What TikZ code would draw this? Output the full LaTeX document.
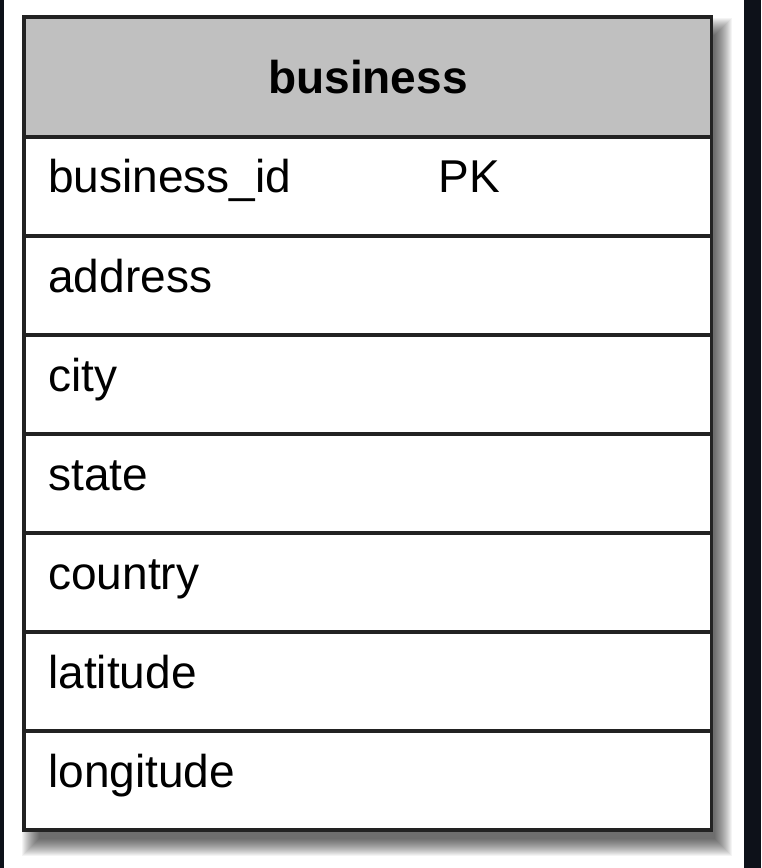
\documentclass[tikz,border=0pt]{standalone}
\usepackage{fontspec}
\setmainfont{Liberation Sans}
\usepackage{tikz}
\usetikzlibrary{positioning}

\definecolor{pagedark}{RGB}{13,17,25}
\definecolor{headgray}{RGB}{192,192,192}
\definecolor{edgegray}{RGB}{34,34,34}

\begin{document}
\begin{tikzpicture}[x=0.02cm,y=-0.02cm,
  tableframe/.style={draw=edgegray, line width=1.8pt, inner sep=0pt, outer sep=0pt, anchor=north west},
  fieldrow/.style={tableframe, fill=white, minimum width=13.76cm, minimum height=1.98cm},
  fieldname/.style={anchor=base west, inner sep=0pt, font=\fontsize{26.2}{30}\selectfont}]
\useasboundingbox (0,0) rectangle (761,868);
% Background and dark side strips
\fill[white] (0,0) rectangle (761,868);
\fill[pagedark] (0,0) rectangle (4,868);
\fill[pagedark] (744,0) rectangle (761,868);
% Soft shadow, stacked layers
\foreach \k in {1,...,18}
  \fill[black, opacity=0.045] ({40-\k},{36-\k}) rectangle ({714+\k},{838+\k});
% Table frame
\node[tableframe, fill=white, minimum width=13.76cm, minimum height=16.26cm] (table) at (24,17) {};
% Header
\node[tableframe, fill=headgray, minimum width=13.76cm, minimum height=2.4cm,
  font=\fontsize{26.2}{30}\selectfont\bfseries] (head) at (24,17) {business};
% Field rows
\foreach \name [count=\i] in {business\_id,address,city,state,country,latitude,longitude} {
  \node[fieldrow] (row\i) at (24,{137+(\i-1)*99}) {};
  \node[fieldname] (field\i) at (48,{193+(\i-1)*99}) {\name};
}
\node[fieldname] (pk) at (438,193) {PK};
\end{tikzpicture}
\end{document}
